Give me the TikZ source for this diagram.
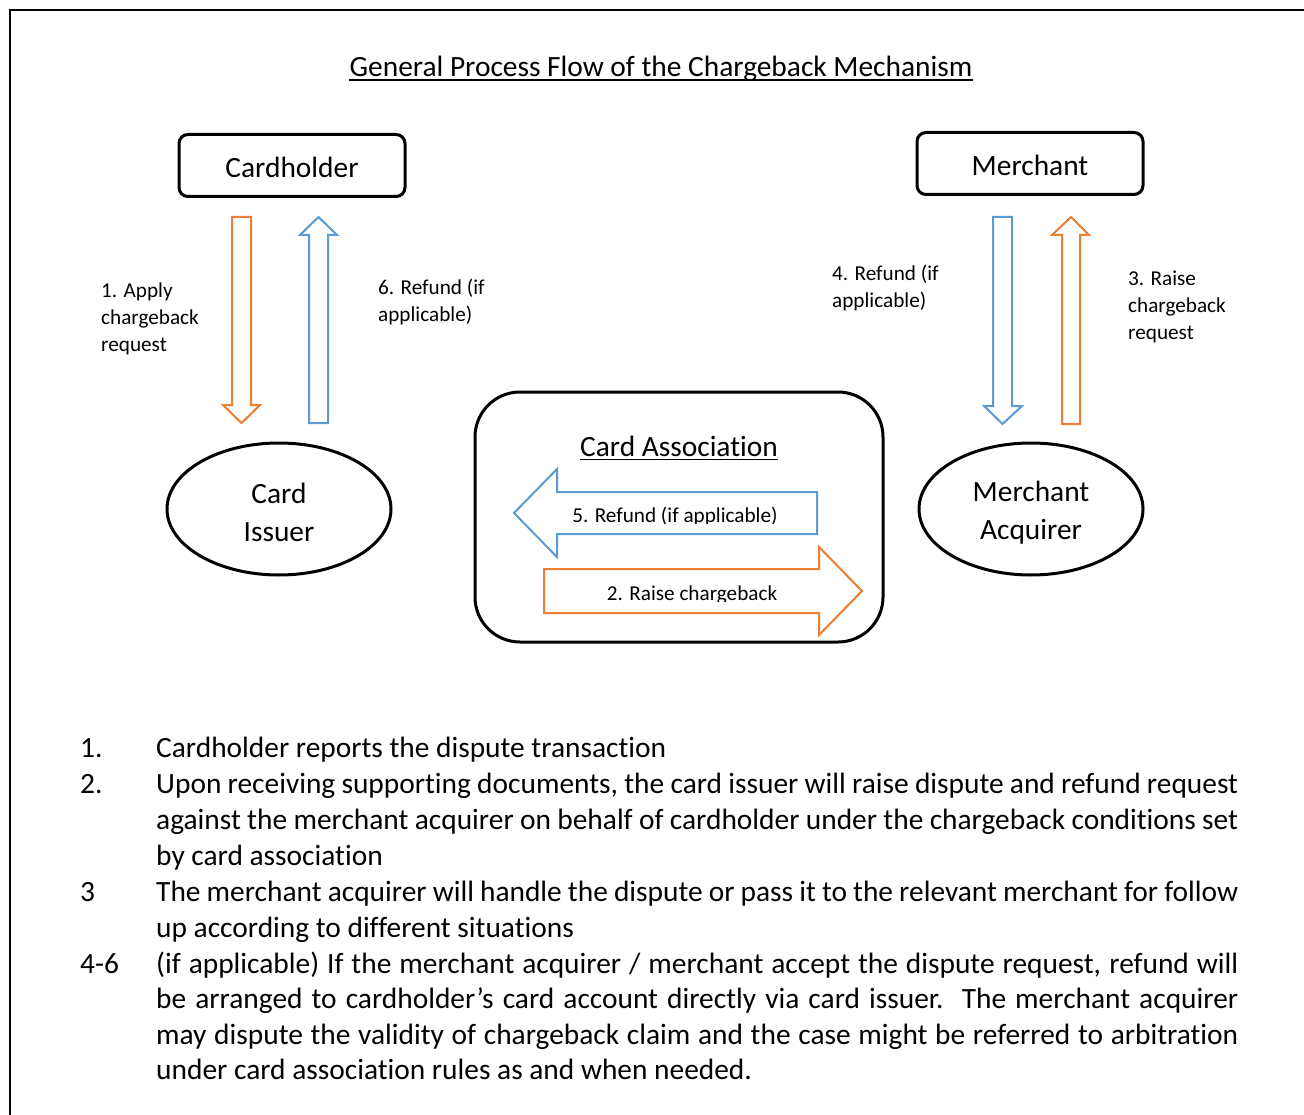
\documentclass[tikz,border=0pt]{standalone}
\usepackage{fontspec}
\setmainfont[Ligatures={NoCommon}]{Carlito}
\usetikzlibrary{shapes.geometric}
\definecolor{aorange}{HTML}{ED7D31}
\definecolor{ablue}{HTML}{5B9BD5}
\begin{document}
\begin{tikzpicture}[x=1pt,y=-1pt,
  bigfont/.style={font=\fontsize{29.4}{38}\selectfont},
  smallfont/.style={font=\fontsize{21.2}{27}\selectfont},
  listfont/.style={font=\fontsize{29.4}{36}\selectfont},
  entity/.style={draw, line width=3pt, rounded corners=9pt, minimum width=226pt, minimum height=62pt, inner sep=0pt},
  entitytext/.style={inner sep=0pt, bigfont},
  party/.style={draw, ellipse, line width=3pt, minimum width=224pt, minimum height=132pt, inner sep=0pt},
  partytext/.style={align=center, inner sep=0pt, bigfont},
  orangearrow/.style={draw=aorange, line width=2pt, fill=white, line join=miter},
  bluearrow/.style={draw=ablue, line width=2pt, fill=white, line join=miter},
  lbl/.style={anchor=base west, inner sep=0pt, smallfont},
  lst/.style={anchor=base west, inner sep=0pt, listfont},
  frame/.style={line width=2.5pt},
  uline/.style={line width=1.6pt}
]
\useasboundingbox (0,0) rectangle (1304,1115);
% frame
\coordinate (fbl) at (10,1115);
\coordinate (ftl) at (10,10);
\coordinate (ftr) at (1304,10);
\draw[frame] (fbl) -- (ftl) -- (ftr);

% title
\node[anchor=base, inner sep=0pt, bigfont] (title) at (661,76.5) {General Process Flow of the Chargeback Mechanism};
\draw[uline] ([yshift=-3.5pt]title.base west) -- ([yshift=-3.5pt]title.base east);

% entities
\node[entity] (cardholder) at (292,165.5) {};
\node[entitytext] (cardholdertext) at (292,167.5) {Cardholder};
\node[entity] (merchant) at (1030,163.5) {};
\node[entitytext] (merchanttext) at (1030,165.5) {Merchant};
\node[party] (issuer) at (279,509) {};
\node[partytext] (issuertext) at (279,512) {Card\\Issuer};
\node[party] (acquirer) at (1031,509) {};
\node[partytext] (acquirertext) at (1031,512.5) {Merchant\\Acquirer};

% card association
\node[draw, line width=3pt, rounded corners=45pt, minimum width=408pt, minimum height=250pt, inner sep=0pt] (assoc) at (679,517) {};
\node[anchor=base, inner sep=0pt, bigfont] (assoctitle) at (679,456) {Card Association};
\draw[uline] ([yshift=-3.5pt]assoctitle.base west) -- ([yshift=-3.5pt]assoctitle.base east);

% vertical block arrows left
\draw[orangearrow] (232,217) -- (251,217) -- (251,405) -- (260,405) -- (241.5,423) -- (223,405) -- (232,405) -- cycle;
\draw[bluearrow] (309,423) -- (309,235) -- (300,235) -- (318.5,217) -- (337,235) -- (328,235) -- (328,423) -- cycle;
% vertical block arrows right
\draw[bluearrow] (993,217) -- (1012,217) -- (1012,406) -- (1022,406) -- (1002.5,424) -- (984,406) -- (993,406) -- cycle;
\draw[orangearrow] (1062,424) -- (1062,235) -- (1052,235) -- (1071,217) -- (1089,235) -- (1080,235) -- (1080,424) -- cycle;

% horizontal block arrows
\draw[bluearrow] (817,492) -- (557,492) -- (557,469) -- (514,513) -- (557,557) -- (557,534) -- (817,534) -- cycle;
\draw[orangearrow] (544,569) -- (819,569) -- (819,547) -- (862,591) -- (819,635) -- (819,613) -- (544,613) -- cycle;
\begin{scope}
  \clip (557,480) rectangle (817,523.5);
  \node[anchor=base, inner sep=0pt, smallfont] (refund5) at (675,522) {5. Refund (if applicable)};
\end{scope}
\begin{scope}
  \clip (544,560) rectangle (819,601);
  \node[anchor=base, inner sep=0pt, smallfont] (raise2) at (692,600) {2. Raise chargeback};
\end{scope}

% arrow labels
\node[lbl] (l1a) at (101,298) {1. Apply};
\node[lbl] (l1b) at (101,325) {chargeback};
\node[lbl] (l1c) at (101,352) {request};
\node[lbl] (l6a) at (378,295) {6. Refund (if};
\node[lbl] (l6b) at (378,322) {applicable)};
\node[lbl] (l4a) at (832,281) {4. Refund (if};
\node[lbl] (l4b) at (832,308) {applicable)};
\node[lbl] (l3a) at (1128,286) {3. Raise};
\node[lbl] (l3b) at (1128,313) {chargeback};
\node[lbl] (l3c) at (1128,340) {request};

% list
\node[lst] (n1) at (80,757) {1.};
\node[lst] (t1) at (156,757) {Cardholder reports the dispute transaction};
\node[lst] (n2) at (80,793) {2.};
\node[lst] (t2a) at (156,793) {\hbox to 1082pt{Upon receiving supporting documents, the card issuer will raise dispute and refund request}};
\node[lst] (t2b) at (156,829) {\hbox to 1082pt{against the merchant acquirer on behalf of cardholder under the chargeback conditions set}};
\node[lst] (t2c) at (156,865) {by card association};
\node[lst] (n3) at (80,901) {3};
\node[lst] (t3a) at (156,901) {\hbox to 1082pt{The merchant acquirer will handle the dispute or pass it to the relevant merchant for follow}};
\node[lst] (t3b) at (156,937) {up according to different situations};
\node[lst] (n4) at (80,973) {4-6};
\node[lst] (t4a) at (156,973) {\hbox to 1082pt{(if applicable) If the merchant acquirer / merchant accept the dispute request, refund will}};
\node[lst] (t4b) at (156,1008.5) {\hbox to 1082pt{be arranged to cardholder’s card account directly via card issuer.\ \ The merchant acquirer}};
\node[lst] (t4c) at (156,1044) {\hbox to 1082pt{may dispute the validity of chargeback claim and the case might be referred to arbitration}};
\node[lst] (t4d) at (156,1079.5) {under card association rules as and when needed.};
\end{tikzpicture}
\end{document}
